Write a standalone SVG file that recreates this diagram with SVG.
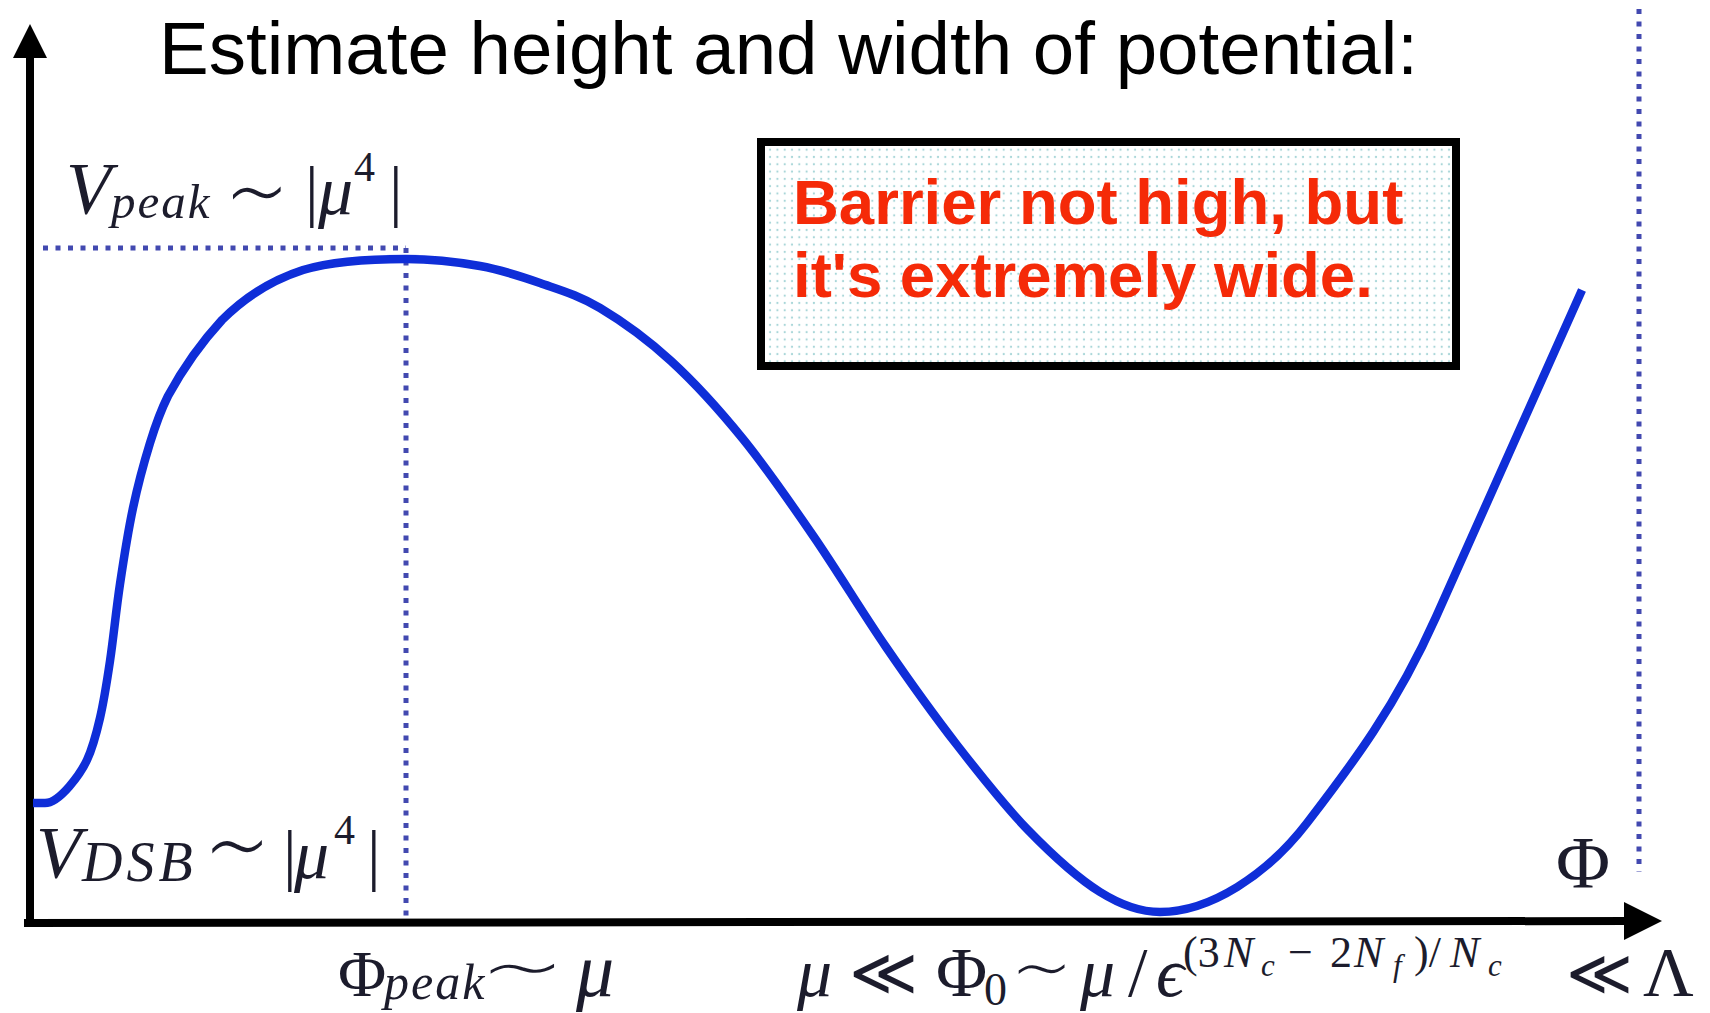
<svg xmlns="http://www.w3.org/2000/svg" width="1710" height="1013" viewBox="0 0 1710 1013">
<style>
.title{font-family:"Liberation Sans",Arial,sans-serif;font-size:74.5px;fill:#000}
.math{font-family:"Liberation Serif","Times New Roman",serif;font-style:italic;fill:#1c1c2c}
.rm{font-family:"Liberation Serif","DejaVu Serif",serif;font-style:normal;fill:#1c1c2c}
.op{font-family:"DejaVu Sans","Liberation Serif",sans-serif;font-weight:200;fill:#1c1c2c}
.red{font-family:"Liberation Sans",Arial,sans-serif;font-weight:bold;font-size:63.5px;fill:#f52a08}
.dot{stroke:#4249b0;stroke-width:5;stroke-dasharray:5 7.5;fill:none}
.axis{stroke:#000;stroke-width:8;fill:none}
.curve{stroke:#0f2ed8;stroke-width:8.5;fill:none}
</style>
<defs>
<pattern id="dots" width="7.3" height="7.3" patternUnits="userSpaceOnUse">
<rect width="7.3" height="7.3" fill="#fff"/>
<circle cx="3.6" cy="3.6" r="1.1" fill="#a8d6d8"/>
</pattern>
</defs>
<rect width="1710" height="1013" fill="#fff"/>
<text class="title" x="159" y="74">Estimate height and width of potential:</text>
<g id="connectors">
<line class="axis" x1="30" y1="920" x2="30" y2="55"/>
<polygon points="30,24 13,58 47,58" fill="#000"/>
<line class="axis" x1="24" y1="923" x2="1626" y2="921"/>
<polygon points="1662,921 1624,902 1624,940" fill="#000"/>
<line class="dot" x1="43" y1="248" x2="406" y2="248"/>
<line class="dot" x1="406" y1="248" x2="406" y2="918"/>
<line class="dot" x1="1639" y1="9" x2="1639" y2="872"/>
<path class="curve" d="M 33 803 L 45 803 C 60 803, 80.8 773.2, 87 760 C 93.2 746.8, 96.2 734.5, 100 718 C 103.8 701.5, 106.7 683.3, 110 661 C 113.3 638.7, 116.2 609.5, 120 584 C 123.8 558.5, 128 531.5, 133 508 C 138 484.5, 144.3 461.5, 150 443 C 155.7 424.5, 161 410, 168 396 C 180 374, 198 346, 222 320 C 246 296, 272 280, 303 270 C 330 262, 370 259, 406 259 C 427.2 259, 457.7 262, 480 266 C 502.3 270, 520 276, 540 283 C 560 290, 578.2 295, 600 308 C 621.8 321, 647.2 339.2, 671 361 C 694.8 382.8, 719.2 409.7, 743 439 C 766.8 468.3, 790.2 502.3, 814 537 C 837.8 571.7, 862.2 612.3, 886 647 C 909.8 681.7, 933.3 714.5, 957 745 C 980.7 775.5, 1004.2 805.5, 1028 830 C 1051.8 854.5, 1078 878.3, 1100 892 C 1122 905.7, 1142 912, 1160 912 C 1210 912, 1267 875, 1307 823 C 1352 764.5, 1396 706.6, 1436 617 L 1582 290"/>
</g>
<g id="note">
<rect x="761" y="142" width="695" height="224" fill="url(#dots)" stroke="#000" stroke-width="8"/>
<text class="red" x="793" y="224">Barrier not high, but</text>
<text class="red" x="793" y="297">it's extremely wide.</text>
</g>
<g id="label-vpeak">
<text class="math" font-size="74" x="66" y="214">V</text>
<text class="math" font-size="49" x="111" y="218" letter-spacing="2">peak</text>
<text class="op" font-size="100" x="225" y="228">∼</text>
<text class="rm" font-size="68" x="305" y="214">|</text>
<text class="math" font-size="70" x="318" y="214">μ</text>
<text class="rm" font-size="42" x="354" y="181">4</text>
<text class="rm" font-size="68" x="389" y="214">|</text>
</g>
<g id="label-vdsb">
<text class="math" font-size="74" x="36" y="878">V</text>
<text class="math" font-size="56" x="82" y="881" letter-spacing="4">DSB</text>
<text class="op" font-size="104" x="204" y="883">∼</text>
<text class="rm" font-size="68" x="283" y="878">|</text>
<text class="math" font-size="70" x="294" y="878">μ</text>
<text class="rm" font-size="42" x="334" y="844">4</text>
<text class="rm" font-size="68" x="367" y="878">|</text>
</g>
<g id="label-phi">
<text class="rm" font-size="74" x="1556" y="888">Φ</text>
</g>
<g id="label-phipeak">
<text class="rm" font-size="66" x="338" y="996">Φ</text>
<text class="math" font-size="50" x="384" y="999" letter-spacing="2">peak</text>
<text class="op" font-size="72" transform="translate(480,995) scale(1.85,1.05)" x="0" y="0" fill="#111">∼</text>
<text class="math" font-size="76" x="576" y="996" fill="#000">μ</text>
</g>
<g id="label-phi0">
<text class="math" font-size="70" x="797" y="996">μ</text>
<text class="op" font-size="66" x="849" y="995">≪</text>
<text class="rm" font-size="70" x="936" y="996">Φ</text>
<text class="rm" font-size="46" x="984" y="1005">0</text>
<text class="op" font-size="74" transform="translate(1011,995) scale(1.3,1)" x="0" y="0">∼</text>
<text class="math" font-size="70" x="1080" y="996">μ</text>
<text class="rm" font-size="70" x="1128" y="996">/</text>
<text class="math" font-size="70" x="1156" y="996">ϵ</text>
<text class="rm" font-size="44" x="1183" y="967">(3</text>
<text class="math" font-size="44" x="1224" y="967">N</text>
<text class="math" font-size="31" x="1261" y="976">c</text>
<text class="rm" font-size="44" x="1288" y="967">−</text>
<text class="rm" font-size="44" x="1330" y="967">2</text>
<text class="math" font-size="44" x="1354" y="967">N</text>
<text class="math" font-size="31" x="1393" y="976">f</text>
<text class="rm" font-size="44" x="1414" y="967">)/</text>
<text class="math" font-size="44" x="1450" y="967">N</text>
<text class="math" font-size="31" x="1488" y="976">c</text>
<text class="op" font-size="64" x="1566" y="995">≪</text>
<text class="rm" font-size="70" x="1643" y="996">Λ</text>
</g>
</svg>
